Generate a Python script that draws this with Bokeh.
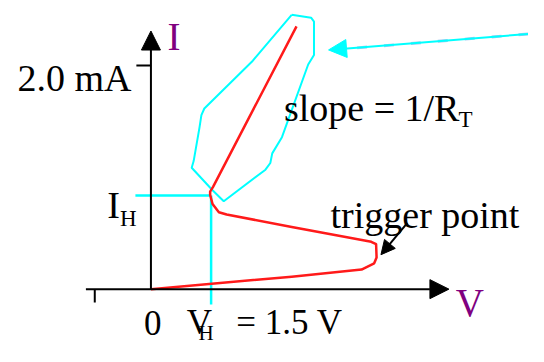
from bokeh.plotting import figure
from bokeh.models import Range1d, Arrow, NormalHead, Label
from bokeh.embed import file_html
from bokeh.resources import INLINE

# ---- data (V in volts, I in mA) ----
V_H = 1.5
I_H = 0.838
I_TICK = 2.0
X_TICK_NEG = -1.4

curve_v = [0.0, 3.51, 5.25, 5.565, 5.625, 5.613, 5.492, 3.51, 1.887, 1.694, 1.536, 1.476, 1.476, 1.549, 3.629]
curve_i = [0.0, 0.111, 0.175, 0.231, 0.282, 0.402, 0.423, 0.556, 0.667, 0.688, 0.761, 0.842, 0.872, 0.915, 2.350]

region_v = [3.508, 3.992, 4.065, 4.065, 3.920, 3.266, 3.024, 2.976, 2.855, 1.815, 1.524, 1.016, 1.065, 1.210, 1.258, 1.331, 2.540, 3.508]
region_i = [2.453, 2.427, 2.393, 2.094, 2.009, 1.359, 1.214, 1.128, 1.068, 0.786, 0.889, 1.085, 1.145, 1.444, 1.556, 1.615, 2.043, 2.453]

x_axis_v = [-1.621, 7.428]
y_axis_i = [0.0, 2.308]

pointer_v = [9.412, 4.428]
pointer_i = [2.282, 2.139]
pointer_dash_v = [9.412, 4.887]
pointer_dash_i = [2.282, 2.150]

trigger_arrow_v = [6.388, 5.734]
trigger_arrow_i = [0.590, 0.308]

SERIF = "Liberation Serif"
PURPLE = "#800080"
CYAN = "#00ffff"
RED = "#ff1a1a"

p = figure(width=528, height=346, output_backend="svg", toolbar_location=None,
           x_range=Range1d(-3.750, 9.412), y_range=Range1d(-0.513, 2.581),
           min_border=0, min_border_left=0, min_border_right=0,
           min_border_top=0, min_border_bottom=0)
p.xaxis.visible = False
p.yaxis.visible = False
p.grid.visible = False
p.outline_line_color = None
p.background_fill_color = "white"
p.border_fill_color = "white"

# axes with arrows
p.add_layout(Arrow(end=NormalHead(size=19, fill_color="black", line_color="black"),
                   x_start=x_axis_v[0], y_start=0, x_end=x_axis_v[1], y_end=0,
                   line_color="black", line_width=2))
p.add_layout(Arrow(end=NormalHead(size=19, fill_color="black", line_color="black"),
                   x_start=0, y_start=y_axis_i[0], x_end=0, y_end=y_axis_i[1],
                   line_color="black", line_width=2))
# ticks
p.segment(x0=[-0.363], y0=[I_TICK], x1=[0], y1=[I_TICK], line_color="black", line_width=2)
p.segment(x0=[X_TICK_NEG], y0=[0], x1=[X_TICK_NEG], y1=[-0.12], line_color="black", line_width=2)

# holding lines
p.segment(x0=[-0.387], y0=[I_H], x1=[V_H], y1=[I_H], line_color=CYAN, line_width=2.5)
p.segment(x0=[V_H], y0=[I_H], x1=[V_H], y1=[-0.137], line_color=CYAN, line_width=2.5)

# region outline
p.line(region_v, region_i, line_color=CYAN, line_width=2)

# curve
p.line(curve_v, curve_i, line_color=RED, line_width=2.5, line_join="round")

# pointer arrow (cyan with light blue dashes)
p.add_layout(Arrow(end=NormalHead(size=18, fill_color=CYAN, line_color=CYAN),
                   x_start=pointer_v[0], y_start=pointer_i[0],
                   x_end=pointer_v[1], y_end=pointer_i[1],
                   line_color=CYAN, line_width=2))
p.line(pointer_dash_v, pointer_dash_i, line_color="#a8c8f0", line_width=3, line_dash="10 17")

# trigger arrow
p.add_layout(Arrow(end=NormalHead(size=14, fill_color="black", line_color="black"),
                   x_start=trigger_arrow_v[0], y_start=trigger_arrow_i[0],
                   x_end=trigger_arrow_v[1], y_end=trigger_arrow_i[1],
                   line_color="black", line_width=2))

def lab(x, y, t, size, color="black", align="left"):
    p.add_layout(Label(x=x, y=y, text=t, text_font=SERIF, text_font_size=f"{size}px",
                       text_color=color, text_align=align, text_baseline="alphabetic"))

lab(-0.484, 1.889, "2.0 mA", 38, align="right")
lab(0.411, 2.256, "I", 39, PURPLE)
lab(3.315, 1.624, "slope = 1/R", 38)
lab(7.670, 1.513, "T", 23)
lab(-1.089, 0.752, "I", 38)
lab(-0.774, 0.632, "H", 23)
lab(4.476, 0.667, "trigger point", 38)
lab(0.048, -0.30, "0", 35, align="center")
lab(0.895, -0.30, "V", 35)
lab(1.186, -0.39, "H", 21)
lab(2.129, -0.30, "= 1.5 V", 35)
lab(7.597, -0.120, "V", 39, PURPLE)

open("out.html", "w").write(file_html(p, INLINE))
